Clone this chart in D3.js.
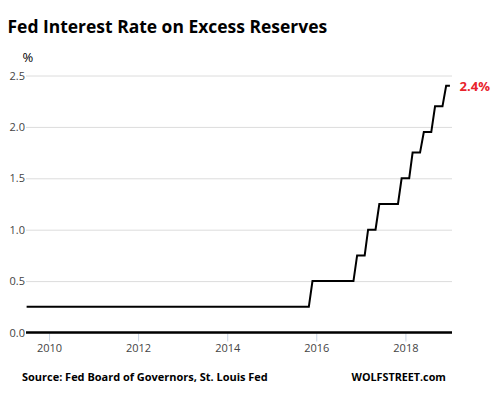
<!DOCTYPE html>
<html><head><meta charset="utf-8">
<script src="https://cdn.jsdelivr.net/npm/d3@7"></script>
<style>body{margin:0;background:#fff}svg{display:block}</style>
</head><body>
<script>
// Turning points of the monthly series (month, % rate)
const months = ["2009-07","2015-11","2015-12","2016-11","2016-12","2017-02","2017-03","2017-05","2017-06","2017-11","2017-12","2018-02","2018-03","2018-05","2018-06","2018-08","2018-09","2018-11","2018-12","2019-01"];
const rates  = [0.25,0.25,0.5,0.5,0.75,0.75,1.0,1.0,1.25,1.25,1.5,1.5,1.75,1.75,1.95,1.95,2.2,2.2,2.4,2.4];
const yTicks = [0,0.5,1.0,1.5,2.0,2.5];
const xTickYears = [2010,2012,2014,2016,2018];
const title = "Fed Interest Rate on Excess Reserves";
const source = "Source: Fed Board of Governors, St. Louis Fed";
const brand = "WOLFSTREET.com";
const lastLabel = "2.4%";

const W = 493, H = 395;
const svg = d3.select("body").append("svg").attr("width", W).attr("height", H);
const parse = d3.timeParse("%Y-%m");
const data = months.map((m, i) => ({d: parse(m), v: rates[i]}));

const x = d3.scaleTime()
  .domain([new Date(2009, 5, 26), new Date(2019, 0, 18)])
  .range([26, 452]);
const y = d3.scaleLinear().domain([0, 2.5]).range([332.5, 75.5]);

function fit(sel, w) {
  let fs = parseFloat(sel.attr("font-size"));
  const len = sel.node().getComputedTextLength();
  sel.attr("font-size", (fs * w / len).toFixed(2));
}

// Title
fit(svg.append("text").attr("x", 7.5).attr("y", 33).attr("font-family", "Open Sans, sans-serif")
  .attr("font-weight", "bold").attr("font-size", 18).attr("fill", "#000").text(title), 320);

// % label
svg.append("text").attr("x", 22.5).attr("y", 62).attr("font-family", "Open Sans, sans-serif")
  .attr("font-size", 13).attr("fill", "#000").text("%");

// Grid
const yAxis = d3.axisLeft(y).tickValues(yTicks).tickFormat(d3.format(".1f")).tickSize(-(452 - 26)).tickPadding(1);
const gy = svg.append("g").attr("transform", "translate(26,0)").call(yAxis);
gy.select(".domain").remove();
gy.selectAll(".tick line").attr("stroke", "#dcdcdc").attr("stroke-width", 1);
gy.selectAll(".tick text").attr("font-family", "Open Sans, sans-serif").attr("font-size", 11).attr("fill", "#444");

// X axis
const xAxis = d3.axisBottom(x).tickValues(xTickYears.map(yr => new Date(yr, 0, 1)))
  .tickFormat(d3.timeFormat("%Y")).tickSize(9).tickPadding(3);
const gx = svg.append("g").attr("transform", "translate(0,332.5)").call(xAxis);
gx.select(".domain").remove();
gx.selectAll(".tick line").attr("stroke", "#c8d4e4").attr("stroke-width", 1);
gx.selectAll(".tick text").attr("font-family", "Open Sans, sans-serif").attr("font-size", 11).attr("fill", "#444");

// zero baseline
svg.append("line").attr("x1", 26).attr("x2", 452).attr("y1", y(0)).attr("y2", y(0))
  .attr("stroke", "#000").attr("stroke-width", 2.5);

// Line
svg.append("path").datum(data)
  .attr("d", d3.line().x(d => x(d.d)).y(d => y(d.v)))
  .attr("fill", "none").attr("stroke", "#000").attr("stroke-width", 2).attr("stroke-linejoin", "miter");

// Last value label
const last = data[data.length - 1];
fit(svg.append("text").attr("x", 459.5).attr("y", y(last.v) + 5).attr("font-family", "Open Sans, sans-serif")
  .attr("font-weight", "bold").attr("font-size", 13).attr("fill", "#e8232b").text(lastLabel), 30.5);

// Footer
fit(svg.append("text").attr("x", 22).attr("y", 381).attr("font-family", "Open Sans, sans-serif")
  .attr("font-weight", "bold").attr("font-size", 11).attr("fill", "#000").text(source), 246);
fit(svg.append("text").attr("x", 351.5).attr("y", 381).attr("font-family", "Open Sans, sans-serif")
  .attr("font-weight", "bold").attr("font-size", 11).attr("fill", "#000").text(brand), 94.5);
</script>
</body></html>
